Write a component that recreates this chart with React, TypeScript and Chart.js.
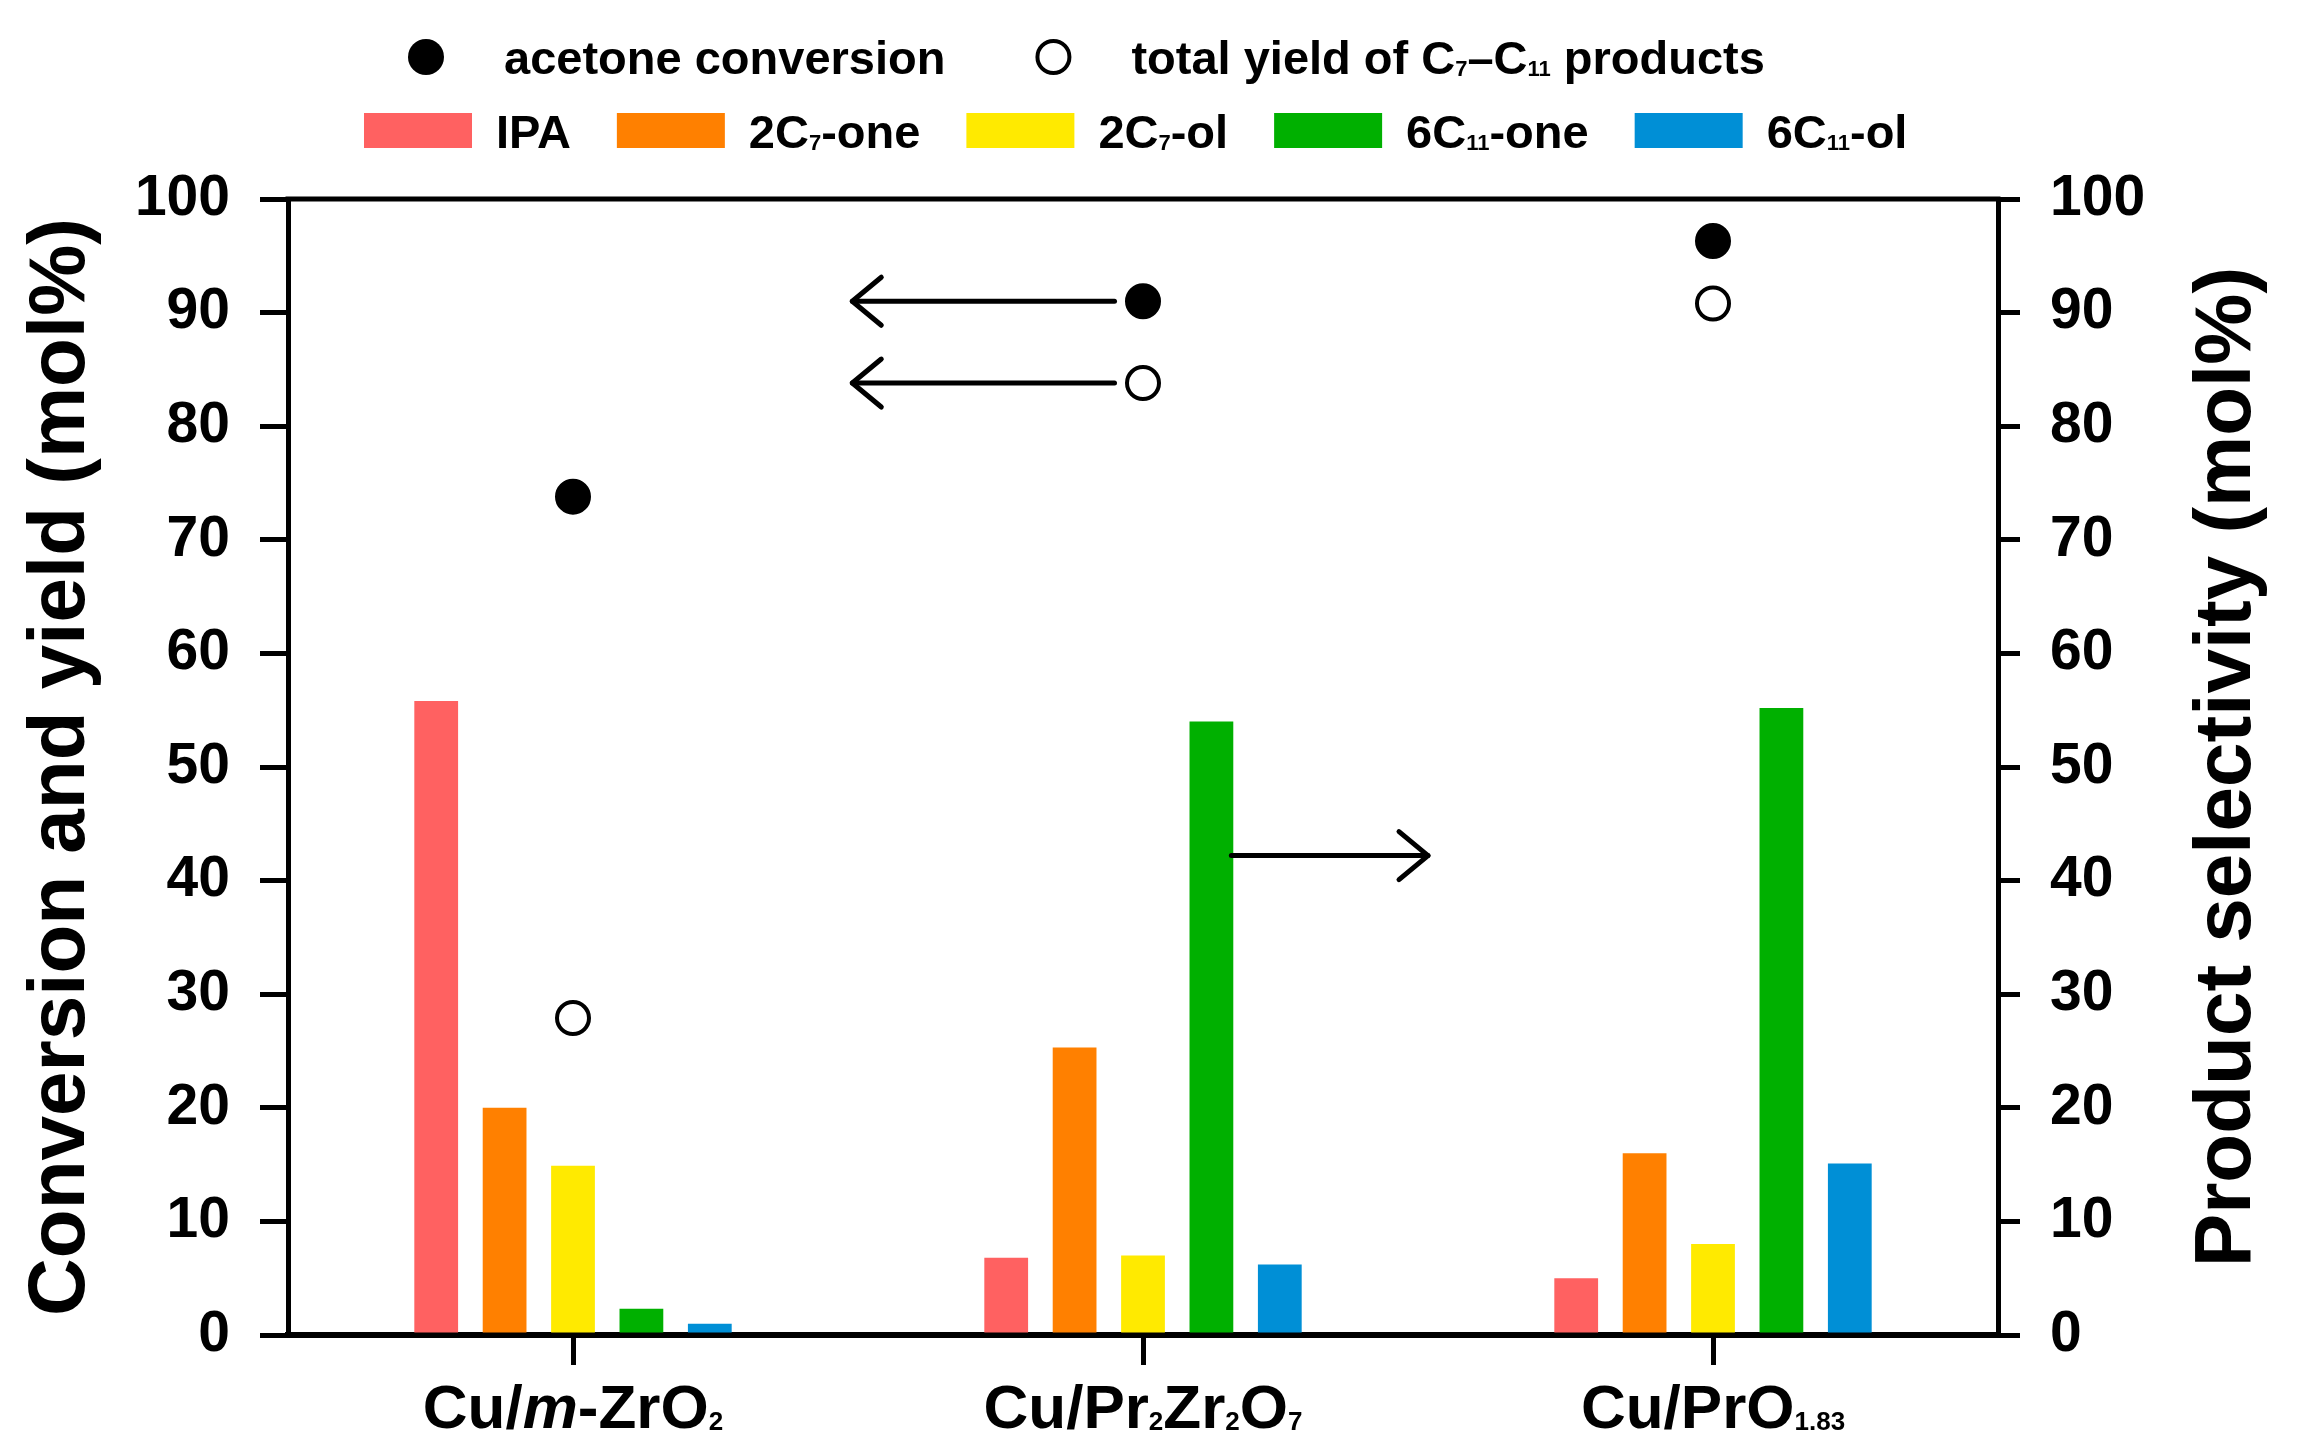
import React, { useEffect, useRef } from 'react';
import { Chart, registerables } from 'chart.js';

Chart.register(...registerables);

// ---------- data ----------
const categories = ['Cu/*m*-ZrO_{2}', 'Cu/Pr_{2}Zr_{2}O_{7}', 'Cu/PrO_{1.83}'];
const productNames = ['IPA', '2C_{7}-one', '2C_{7}-ol', '6C_{11}-one', '6C_{11}-ol'];
const ipaSel = [55.8, 6.8, 5.0];
const c7oneSel = [20.0, 25.3, 16.0];
const c7olSel = [14.9, 7.0, 8.0];
const c11oneSel = [2.3, 54.0, 55.2];
const c11olSel = [1.0, 6.2, 15.1];
const acetoneConversion = [73.8, 91.0, 96.3];
const totalYield = [27.9, 83.8, 90.8];
const pointNames = ['acetone conversion', 'total yield of C_{7}\u2013C_{11} products'];
const leftTitle = 'Conversion and yield (mol%)';
const rightTitle = 'Product selectivity (mol%)';
// annotation arrows: category-index from/to, value on axis
const arrowFrom = [0.95, 0.95, 1.155];
const arrowTo = [0.49, 0.49, 1.5];
const arrowValue = [91.0, 83.8, 42.2];

// ---------- style ----------
const productColors = ['#FF6161', '#FF8000', '#FFEA00', '#00B000', '#008FD6'];
const FONT = '"Liberation Sans", Arial, Helvetica, sans-serif';

type Seg = { t: string; sub?: boolean; it?: boolean };

function parseRich(s: string): Seg[] {
  const segs: Seg[] = [];
  let buf = '';
  let italic = false;
  let i = 0;
  while (i < s.length) {
    const c = s[i];
    if (c === '*') {
      if (buf) segs.push({ t: buf, it: italic });
      buf = '';
      italic = !italic;
      i++;
      continue;
    }
    if (c === '_' && s[i + 1] === '{') {
      if (buf) segs.push({ t: buf, it: italic });
      buf = '';
      const end = s.indexOf('}', i);
      segs.push({ t: s.slice(i + 2, end), sub: true, it: italic });
      i = end + 1;
      continue;
    }
    buf += c;
    i++;
  }
  if (buf) segs.push({ t: buf, it: italic });
  return segs;
}

function drawRich(
  ctx: CanvasRenderingContext2D,
  text: string,
  x: number,
  y: number,
  size: number,
  subScale: number,
  align: 'left' | 'center'
): number {
  const segs = parseRich(text);
  const fontFor = (s: Seg) => `${s.it ? 'italic ' : ''}bold ${s.sub ? Math.round(size * subScale) : size}px ${FONT}`;
  const widths = segs.map((s) => {
    ctx.font = fontFor(s);
    return ctx.measureText(s.t).width;
  });
  const total = widths.reduce((a, b) => a + b, 0);
  let cx = align === 'center' ? x - total / 2 : x;
  ctx.textAlign = 'left';
  ctx.textBaseline = 'alphabetic';
  segs.forEach((s, k) => {
    ctx.font = fontFor(s);
    ctx.fillText(s.t, cx, y + (s.sub ? 2 : 0));
    cx += widths[k];
  });
  return total;
}

const decorPlugin = {
  id: 'decor',
  beforeDraw(chart: any) {
    const ctx: CanvasRenderingContext2D = chart.ctx;
    ctx.save();
    ctx.fillStyle = '#fff';
    ctx.fillRect(0, 0, chart.width, chart.height);
    ctx.restore();
  },
  afterDraw(chart: any) {
    const ctx: CanvasRenderingContext2D = chart.ctx;
    const a = chart.chartArea;
    const xs = chart.scales.x;
    const ys = chart.scales.y;
    ctx.save();
    ctx.strokeStyle = '#000';
    ctx.fillStyle = '#000';

    // top frame line
    ctx.lineWidth = 5;
    ctx.beginPath();
    ctx.moveTo(a.left - 2.5, a.top);
    ctx.lineTo(a.right + 2.5, a.top);
    ctx.stroke();

    // arrows
    ctx.lineCap = 'round';
    ctx.lineJoin = 'round';
    ctx.lineWidth = 5;
    arrowFrom.forEach((f, i) => {
      const x0 = xs.getPixelForValue(f);
      const x1 = xs.getPixelForValue(arrowTo[i]);
      const y = ys.getPixelForValue(arrowValue[i]);
      const dir = Math.sign(x1 - x0);
      ctx.beginPath();
      ctx.moveTo(x0, y);
      ctx.lineTo(x1, y);
      ctx.stroke();
      ctx.beginPath();
      ctx.moveTo(x1 - dir * 29, y - 24);
      ctx.lineTo(x1, y);
      ctx.lineTo(x1 - dir * 29, y + 24);
      ctx.stroke();
    });

    // category labels
    categories.forEach((c, i) => {
      drawRich(ctx, c, xs.getPixelForValue(i), a.bottom + 93, 62, 0.42, 'center');
    });

    // axis titles
    const cy = (a.top + a.bottom) / 2;
    ctx.font = `bold 80px ${FONT}`;
    ctx.textAlign = 'center';
    ctx.textBaseline = 'alphabetic';
    ctx.save();
    ctx.translate(a.left - 204, cy);
    ctx.rotate(-Math.PI / 2);
    ctx.fillText(leftTitle, 0, 0);
    ctx.restore();
    ctx.save();
    ctx.translate(a.right + 252, cy);
    ctx.rotate(-Math.PI / 2);
    ctx.fillText(rightTitle, 0, 0);
    ctx.restore();

    // legend row 1 (markers)
    const lf = 47;
    let mx = a.left + 138;
    const y1c = 57;
    pointNames.forEach((n, i) => {
      ctx.beginPath();
      if (i === 0) {
        ctx.arc(mx, y1c, 18, 0, Math.PI * 2);
        ctx.fill();
      } else {
        ctx.lineWidth = 4;
        ctx.arc(mx, y1c, 16, 0, Math.PI * 2);
        ctx.fillStyle = '#fff';
        ctx.fill();
        ctx.stroke();
        ctx.fillStyle = '#000';
      }
      const w = drawRich(ctx, n, mx + 78, 74, lf, 0.46, 'left');
      mx = mx + 78 + w + 108;
    });

    // legend row 2 (bars)
    let bx = a.left + 76;
    productNames.forEach((n, i) => {
      ctx.fillStyle = productColors[i];
      ctx.fillRect(bx, 113, 108, 35);
      ctx.fillStyle = '#000';
      const w = drawRich(ctx, n, bx + 132, 148, lf, 0.46, 'left');
      bx = bx + 132 + w + 46;
    });

    ctx.restore();
  },
};

export default function App() {
  const ref = useRef<HTMLCanvasElement | null>(null);

  useEffect(() => {
    if (!ref.current) return;
    Chart.defaults.font.family = FONT;
    const sels = [ipaSel, c7oneSel, c7olSel, c11oneSel, c11olSel];
    const barSets = sels.map((d, i) => ({
      type: 'bar' as const,
      label: productNames[i],
      data: d,
      yAxisID: 'y1',
      backgroundColor: productColors[i],
      borderWidth: 0,
      categoryPercentage: 0.6,
      barPercentage: 0.64,
      order: 2,
    }));
    const pointSets = [
      {
        type: 'line' as const,
        label: pointNames[0],
        data: acetoneConversion,
        yAxisID: 'y',
        showLine: false,
        pointRadius: 17,
        pointBorderWidth: 2,
        pointBackgroundColor: '#000',
        pointBorderColor: '#000',
        order: 0,
      },
      {
        type: 'line' as const,
        label: pointNames[1],
        data: totalYield,
        yAxisID: 'y',
        showLine: false,
        pointRadius: 16,
        pointBorderWidth: 4,
        pointBackgroundColor: '#fff',
        pointBorderColor: '#000',
        order: 0,
      },
    ];
    const tickFont = { size: 57, weight: 'bold' as const, family: FONT };
    const chart = new Chart(ref.current, {
      type: 'bar',
      data: { labels: categories, datasets: [...barSets, ...pointSets] as any },
      options: {
        responsive: false,
        animation: false,
        devicePixelRatio: 1,
        layout: { padding: { top: 199, left: 0, right: 0, bottom: 0 } },
        plugins: { legend: { display: false }, tooltip: { enabled: false }, title: { display: false } },
        scales: {
          x: {
            type: 'category',
            offset: true,
            grid: { offset: false, drawOnChartArea: false, drawTicks: true, tickLength: 30, lineWidth: 5, color: '#000' },
            border: { display: true, color: '#000', width: 6 },
            ticks: { color: 'rgba(0,0,0,0)', font: { size: 20 }, autoSkip: false, maxRotation: 0 },
            afterFit: (s: any) => {
              s.height = 120;
            },
          },
          y: {
            type: 'linear',
            position: 'left',
            min: 0,
            max: 100,
            ticks: { stepSize: 10, color: '#000', font: tickFont, padding: 30 },
            grid: { drawOnChartArea: false, drawTicks: true, tickLength: 28, lineWidth: 5, color: '#000' },
            border: { display: true, color: '#000', width: 5 },
            afterFit: (s: any) => {
              s.width = 288;
            },
          },
          y1: {
            type: 'linear',
            position: 'right',
            min: 0,
            max: 100,
            ticks: { stepSize: 10, color: '#000', font: tickFont, padding: 30 },
            grid: { drawOnChartArea: false, drawTicks: true, tickLength: 22, lineWidth: 5, color: '#000' },
            border: { display: true, color: '#000', width: 5 },
            afterFit: (s: any) => {
              s.width = 311;
            },
          },
        },
      } as any,
      plugins: [decorPlugin],
    });
    if ((document as any).fonts && (document as any).fonts.ready) {
      (document as any).fonts.ready.then(() => {
        try {
          chart.update();
        } catch (e) {}
      });
    }
    return () => {
      chart.destroy();
    };
  }, []);

  return (
    <div style={{ position: 'absolute', left: 0, top: 0, width: 2309, height: 1455, background: '#fff' }}>
      <canvas ref={ref} width={2309} height={1455} style={{ width: 2309, height: 1455, display: 'block' }} />
    </div>
  );
}
